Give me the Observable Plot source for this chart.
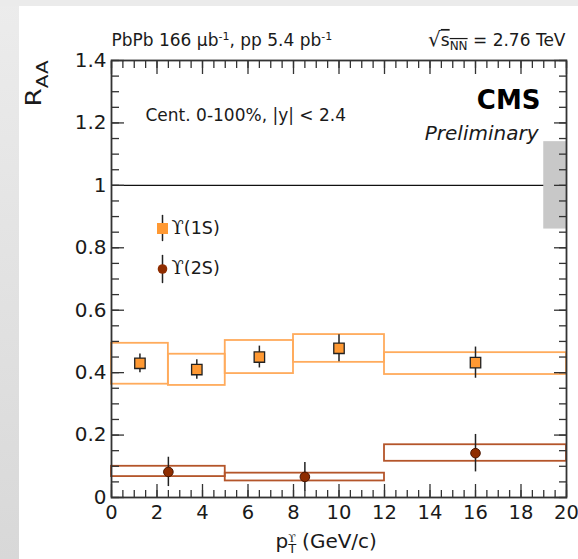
<!DOCTYPE html>
<html><head><meta charset="utf-8">
<script src="https://cdn.jsdelivr.net/npm/d3@7"></script>
<script src="https://cdn.jsdelivr.net/npm/@observablehq/plot@0.6"></script>
<style>
html,body{margin:0;padding:0;background:#fff;}
#wrap{position:relative;width:578px;height:559px;overflow:hidden;background:linear-gradient(to bottom,#ececec,#d8d8d8);}
#top{position:absolute;left:0;top:0;right:0;height:6px;background:#ebebeb;}
#panel{position:absolute;left:19px;top:6px;right:0;bottom:0;background:#fff;}
#chart{position:absolute;left:0;top:0;}
</style></head><body>
<div id="wrap"><div id="top"></div><div id="panel"></div><div id="chart"></div></div>
<script>
// ---- Data ----
// Upsilon(1S)
const pt1S = [1.25, 3.75, 6.5, 10, 16];
const raa1S = [0.43, 0.41, 0.45, 0.478, 0.432];
const stat1S = [0.03, 0.031, 0.035, 0.043, 0.05];
const binLo1S = [0, 2.5, 5, 8, 12];
const binHi1S = [2.5, 5, 8, 12, 20];
const sysLo1S = [0.363, 0.359, 0.397, 0.433, 0.394];
const sysHi1S = [0.494, 0.459, 0.503, 0.522, 0.464];
// Upsilon(2S)
const pt2S = [2.5, 8.5, 16];
const raa2S = [0.082, 0.066, 0.142];
const stat2S = [0.047, 0.046, 0.06];
const binLo2S = [0, 5, 12];
const binHi2S = [5, 12, 20];
const sysLo2S = [0.067, 0.053, 0.116];
const sysHi2S = [0.100, 0.078, 0.169];
// Global uncertainty band at unity
const globalX = [19, 20];
const globalY = [0.86, 1.14];
const unity = [1];
// Axis ticks
const yMajor = [0, 0.2, 0.4, 0.6, 0.8, 1, 1.2, 1.4];
const yMinor = d3.range(0, 29).map(i => +(i * 0.05).toFixed(2));
const xMajor = d3.range(0, 21, 2);
const xMinor = d3.range(0, 41).map(i => i * 0.5);
// Texts
const topLeftText = "PbPb 166 μb-1, pp 5.4 pb-1";
const topRightText = "√sNN = 2.76 TeV";
const centText = "Cent. 0-100%, |y| < 2.4";
const cmsText = "CMS";
const prelimText = "Preliminary";
const legend1S = "ϒ(1S)";
const legend2S = "ϒ(2S)";
const xLabel = "pTϒ (GeV/c)";
const yLabel = "RAA";

// ---- tables built from arrays ----
const pts1S = pt1S.map((x, i) => ({x, y: raa1S[i], e: stat1S[i]}));
const pts2S = pt2S.map((x, i) => ({x, y: raa2S[i], e: stat2S[i]}));
const box1S = binLo1S.map((x1, i) => ({x1, x2: binHi1S[i], y1: sysLo1S[i], y2: sysHi1S[i]}));
const box2S = binLo2S.map((x1, i) => ({x1, x2: binHi2S[i], y1: sysLo2S[i], y2: sysHi2S[i]}));
const globalBox = [{x1: globalX[0], x2: globalX[1], y1: globalY[0], y2: globalY[1]}];

const c1S = "#ff9933", c1Sbox = "#ffab5c";
const c2S = "#8f2d00", c2Sbox = "#b4552a";
const tickStyle = {stroke: "#333", strokeWidth: 1.3, label: null, tickFormat: () => ""};
const barShape = {draw(ctx, l) { ctx.moveTo(0, 0); ctx.lineTo(0, -l); }};

const txt = (s, o) => Plot.text([s], {text: d => d, lineAnchor: "middle", fill: "#1a1a1a", ...o});

const chart = Plot.plot({
  width: 578, height: 559,
  marginLeft: 111, marginRight: 12, marginTop: 60, marginBottom: 62,
  style: {background: "transparent", fontFamily: "DejaVu Sans", color: "#1a1a1a"},
  x: {domain: [0, 20]},
  y: {domain: [0, 1.4]},
  marks: [
    Plot.ruleY(unity, {stroke: "#111", strokeWidth: 1.3}),
    Plot.rect(globalBox, {x1: "x1", x2: "x2", y1: "y1", y2: "y2", fill: "#c8c8c8"}),
    Plot.rect(box1S, {x1: "x1", x2: "x2", y1: "y1", y2: "y2", fill: "none", stroke: c1Sbox, strokeWidth: 1.8}),
    Plot.rect(box2S, {x1: "x1", x2: "x2", y1: "y1", y2: "y2", fill: "none", stroke: c2Sbox, strokeWidth: 1.8}),
    Plot.ruleX(pts1S, {x: "x", y1: d => d.y - d.e, y2: d => d.y + d.e, stroke: "#222", strokeWidth: 1.5}),
    Plot.ruleX(pts2S, {x: "x", y1: d => d.y - d.e, y2: d => d.y + d.e, stroke: "#222", strokeWidth: 1.5}),
    Plot.dot(pts1S, {x: "x", y: "y", symbol: "square", r: 5.9, fill: c1S, stroke: "#222", strokeWidth: 1.3}),
    Plot.dot(pts2S, {x: "x", y: "y", r: 4.8, fill: c2S, stroke: "#4a1500", strokeWidth: 1}),
    Plot.frame({stroke: "#333", strokeWidth: 1.8}),
    // inner ticks (ROOT style)
    Plot.axisY({ticks: yMinor, anchor: "left", tickSize: -8, ...tickStyle}),
    Plot.axisY({ticks: yMajor, anchor: "left", tickSize: -13, ...tickStyle}),
    Plot.axisY({ticks: yMinor, anchor: "right", tickSize: -8, ...tickStyle}),
    Plot.axisY({ticks: yMajor, anchor: "right", tickSize: -13, ...tickStyle}),
    Plot.axisX({ticks: xMinor, anchor: "bottom", tickSize: -7, ...tickStyle}),
    Plot.axisX({ticks: xMajor, anchor: "bottom", tickSize: -13, ...tickStyle}),
    Plot.axisX({ticks: xMinor, anchor: "top", tickSize: -7, ...tickStyle}),
    Plot.axisX({ticks: xMajor, anchor: "top", tickSize: -13, ...tickStyle}),
    // tick labels
    Plot.axisY({ticks: yMajor, anchor: "left", tickSize: 0, tickPadding: 5, fontSize: 20, label: null,
      tickFormat: d => String(+d.toFixed(1)), color: "#1a1a1a"}),
    Plot.axisX({ticks: xMajor, anchor: "bottom", tickSize: 0, tickPadding: 8, fontSize: 19.5, label: null, color: "#1a1a1a"}),
    // annotations
    txt(topLeftText, {frameAnchor: "top-left", textAnchor: "start", dy: -20, fontSize: 17}),
    txt(topRightText, {frameAnchor: "top-right", textAnchor: "end", dx: -1, dy: -20, fontSize: 17}),
    txt(centText, {frameAnchor: "top-left", textAnchor: "start", dx: 34, dy: 55, fontSize: 17}),
    txt(cmsText, {frameAnchor: "top-right", textAnchor: "end", dx: -26, dy: 40, fontSize: 26, fontWeight: "bold", fill: "#000"}),
    txt(prelimText, {frameAnchor: "top-right", textAnchor: "end", dx: -28, dy: 73, fontSize: 20, fontStyle: "italic"}),
    // legend
    Plot.vector([0], {frameAnchor: "top-left", dx: 51, dy: 167.5, length: 25, rotate: 0, anchor: "middle", shape: barShape, stroke: "#222", strokeWidth: 1.5}),
    Plot.vector([0], {frameAnchor: "top-left", dx: 51, dy: 208.5, length: 27, rotate: 0, anchor: "middle", shape: barShape, stroke: "#222", strokeWidth: 1.5}),
    Plot.dot([0], {frameAnchor: "top-left", dx: 51, dy: 168, symbol: "square", r: 6.2, fill: c1S}),
    Plot.dot([0], {frameAnchor: "top-left", dx: 51, dy: 208.5, r: 4.8, fill: c2S}),
    txt(legend1S, {frameAnchor: "top-left", textAnchor: "start", dx: 60, dy: 168, fontSize: 17.5}),
    txt(legend2S, {frameAnchor: "top-left", textAnchor: "start", dx: 60, dy: 208, fontSize: 17.5}),
    // axis titles
    txt(xLabel, {frameAnchor: "bottom-left", textAnchor: "start", dx: 164, dy: 44, fontSize: 20}),
    txt(yLabel, {frameAnchor: "top-left", textAnchor: "end", rotate: -90, dx: -77, dy: 0, fontSize: 21})
  ]
});

// rich text (super/subscripts) for the annotation strings
const sup = s => `<tspan baseline-shift="super" font-size="11">${s}</tspan>`;
const ups = `<tspan font-family="DejaVu Serif, DejaVu Sans" font-size="18">ϒ</tspan>`;
const rich = new Map([
  [topLeftText, `PbPb 166 μb${sup("-1")}, pp 5.4 pb${sup("-1")}`],
  [topRightText, `<tspan font-size="20">√</tspan><tspan text-decoration="overline">s<tspan baseline-shift="-4" font-size="12">NN</tspan></tspan> = 2.76 TeV`],
  [legend1S, `${ups}(1S)`],
  [legend2S, `${ups}(2S)`],
  [xLabel, `p<tspan baseline-shift="-5" font-size="13">T</tspan><tspan dx="-8" baseline-shift="6" font-size="11" font-family="DejaVu Serif, DejaVu Sans">ϒ</tspan> (GeV/c)`],
  [yLabel, `R<tspan baseline-shift="-7" font-size="16">AA</tspan>`]
]);
chart.querySelectorAll("text").forEach(t => {
  const h = rich.get(t.textContent);
  if (h) {
    t.innerHTML = h;
    if (t.textContent === "RAA") { t.setAttribute("textLength", 46); t.setAttribute("lengthAdjust", "spacingAndGlyphs"); }
  }
});
document.getElementById("chart").appendChild(chart);
</script>
</body></html>
